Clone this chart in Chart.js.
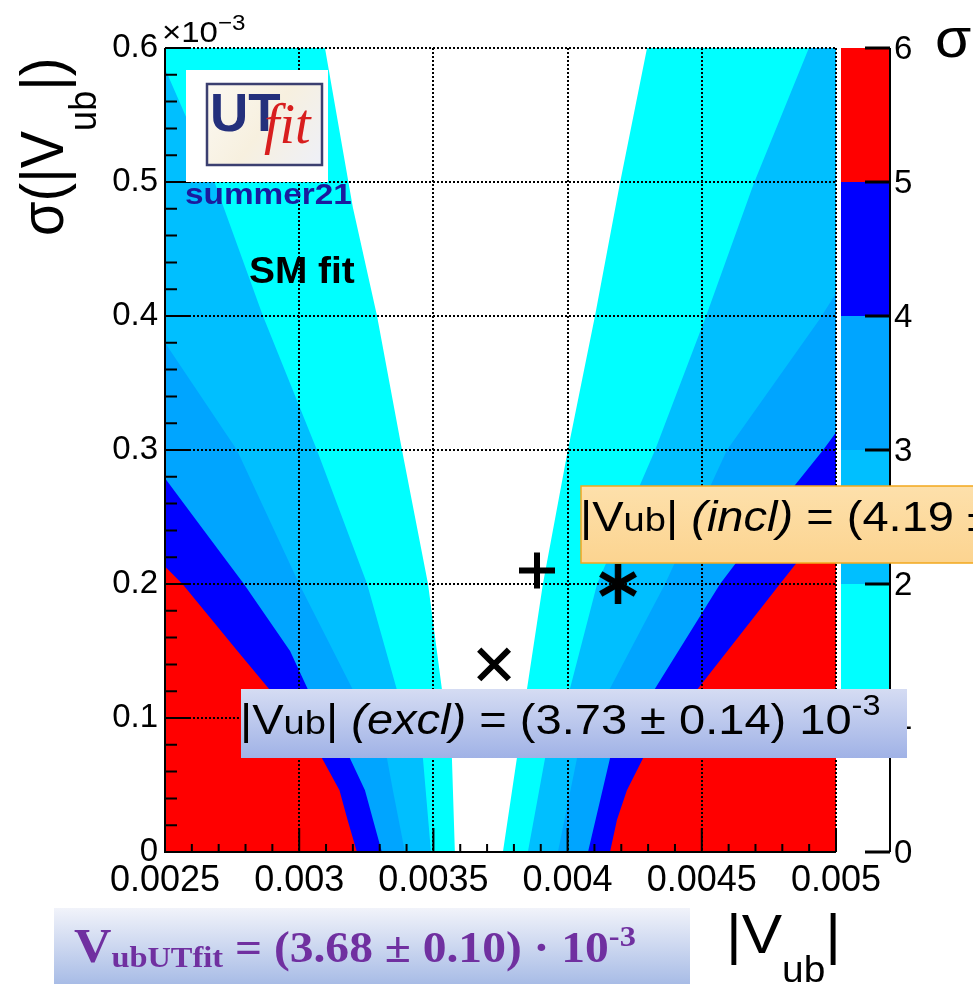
<!DOCTYPE html>
<html>
<head>
<meta charset="utf-8">
<script src="https://cdn.jsdelivr.net/npm/chart.js@4.4.0/dist/chart.umd.min.js"></script>
<style>
  html, body { margin: 0; padding: 0; background: #fff; }
</style>
</head>
<body>
<canvas id="chart" width="973" height="984"></canvas>
<script>
// ========================== DATA ==========================
const xTicks = [0.0025, 0.003, 0.0035, 0.004, 0.0045, 0.005];
const xTickLabels = ["0.0025", "0.003", "0.0035", "0.004", "0.0045", "0.005"];
const yTicks = [0, 0.1, 0.2, 0.3, 0.4, 0.5, 0.6];            // x10^-3
const yTickLabels = ["0", "0.1", "0.2", "0.3", "0.4", "0.5", "0.6"];
const sigmaLevels = [0, 1, 2, 3, 4, 5, 6];
const sigmaLabels = ["0", "1", "2", "3", "4", "5", "6"];
const sigmaColors = ["#ffffff", "#00ffff", "#00bfff", "#00a5ff", "#0000ff", "#ff0000"];

// contour boundaries, left branch (x at each y, bottom -> top)
const left1Y = [0, 0.070, 0.121, 0.2, 0.3, 0.4, 0.481, 0.6];
const left1X = [0.003580, 0.003569, 0.003532, 0.003480, 0.003383, 0.003290, 0.003200, 0.003096];
const left2Y = [0, 0.070, 0.121, 0.2, 0.3, 0.4, 0.499, 0.580, 0.584, 0.6];
const left2X = [0.003491, 0.003461, 0.003364, 0.003253, 0.003066, 0.002865, 0.002686, 0.002510, 0.0025, 0.0025];
const left3Y = [0, 0.046, 0.070, 0.121, 0.2, 0.3, 0.380, 0.6];
const left3X = [0.003394, 0.003349, 0.003327, 0.003200, 0.003000, 0.002768, 0.0025, 0.0025];
const left4Y = [0, 0.024, 0.046, 0.070, 0.121, 0.15, 0.2, 0.24, 0.279, 0.6];
const left4X = [0.003308, 0.003275, 0.003245, 0.003189, 0.003033, 0.002966, 0.002794, 0.002645, 0.0025, 0.0025];
const left5Y = [0, 0.024, 0.046, 0.070, 0.121, 0.15, 0.2, 0.213, 0.6];
const left5X = [0.003215, 0.003180, 0.003150, 0.003085, 0.002890, 0.002770, 0.002565, 0.0025, 0.0025];

// contour boundaries, right branch (x at each y, bottom -> top)
const right1Y = [0, 0.070, 0.122, 0.2, 0.3, 0.4, 0.499, 0.6];
const right1X = [0.003759, 0.003811, 0.003849, 0.003908, 0.004001, 0.004102, 0.004195, 0.004296];
const right2Y = [0, 0.070, 0.122, 0.2, 0.3, 0.4, 0.499, 0.6];
const right2X = [0.003852, 0.003916, 0.004009, 0.004110, 0.004326, 0.004516, 0.004694, 0.004899];
const right3Y = [0, 0.070, 0.122, 0.2, 0.3, 0.397, 0.417, 0.6];
const right3X = [0.003964, 0.004035, 0.004158, 0.004363, 0.004594, 0.004937, 0.005, 0.005];
const right4Y = [0, 0.070, 0.122, 0.2, 0.272, 0.3, 0.313, 0.6];
const right4X = [0.004076, 0.004158, 0.004326, 0.004568, 0.004840, 0.004952, 0.005, 0.005];
const right5Y = [0, 0.024, 0.046, 0.070, 0.122, 0.2, 0.253, 0.6];
const right5X = [0.004158, 0.004184, 0.004221, 0.004281, 0.004486, 0.004791, 0.005, 0.005];

// measurement markers: incl (+), UTfit (*), excl (x)
const markerX = [0.003886, 0.004188, 0.003726];
const markerY = [0.210, 0.200, 0.140];

const xMin = 0.0025, xMax = 0.005, yMin = 0, yMax = 0.6;

// ========================== HELPERS ==========================
function toPts(xs, ys) {
  return xs.map((x, i) => ({ x: x, y: ys[i] }));
}
function band(lx, ly, rx, ry) {
  return toPts(lx, ly).concat(toPts(rx, ry).reverse());
}
function bandSet(label, data, color) {
  return {
    label, data, showLine: true, fill: "shape", tension: 0,
    backgroundColor: color, borderColor: "rgba(0,0,0,0)", borderWidth: 0,
    pointRadius: 0, pointHitRadius: 0
  };
}

// 6-arm asterisk used as point style
function asterisk() {
  const c = document.createElement("canvas");
  c.width = 44; c.height = 46;
  const g = c.getContext("2d");
  g.strokeStyle = "#000"; g.lineWidth = 6.5;
  const r = 20;
  [90, 30, 150].forEach(a => {
    const t = a * Math.PI / 180;
    g.beginPath();
    g.moveTo(22 - Math.cos(t) * r, 23 - Math.sin(t) * r);
    g.lineTo(22 + Math.cos(t) * r, 23 + Math.sin(t) * r);
    g.stroke();
  });
  return c;
}

function drawRuns(ctx, x, y, runs, sx) {
  ctx.save();
  ctx.translate(x, y);
  ctx.scale(sx, 1);
  ctx.textAlign = "left";
  ctx.textBaseline = "alphabetic";
  let cx = 0;
  runs.forEach(r => {
    ctx.font = r.f;
    if (r.c) ctx.fillStyle = r.c;
    ctx.fillText(r.t, cx, r.dy || 0);
    cx += ctx.measureText(r.t).width;
  });
  ctx.restore();
}

const SANS = '"Liberation Sans", Arial, sans-serif';
const SERIF = '"Liberation Serif", "Times New Roman", serif';

// ========================== OVERLAY ==========================
const overlay = {
  id: "overlay",
  afterDraw(chart) {
    const ctx = chart.ctx;
    const xs = chart.scales.x, ys = chart.scales.y, cs = chart.scales.cb;
    const a = chart.chartArea;
    ctx.save();

    // axes
    ctx.strokeStyle = "#000";
    ctx.lineWidth = 2;
    ctx.beginPath();
    ctx.moveTo(a.left, a.top);
    ctx.lineTo(a.left, a.bottom);
    ctx.lineTo(a.right, a.bottom);
    ctx.stroke();

    // inward ticks
    ctx.beginPath();
    for (let i = 0; i < yTicks.length; i++) {
      const py = ys.getPixelForValue(yTicks[i]);
      ctx.moveTo(a.left, py); ctx.lineTo(a.left + 25, py);
      if (i < yTicks.length - 1) {
        for (let k = 1; k < 5; k++) {
          const v = yTicks[i] + (yTicks[i + 1] - yTicks[i]) * k / 5;
          const p = ys.getPixelForValue(v);
          ctx.moveTo(a.left, p); ctx.lineTo(a.left + 12, p);
        }
      }
    }
    for (let i = 0; i < xTicks.length; i++) {
      const px = xs.getPixelForValue(xTicks[i]);
      ctx.moveTo(px, a.bottom); ctx.lineTo(px, a.bottom - 24);
      if (i < xTicks.length - 1) {
        for (let k = 1; k < 5; k++) {
          const v = xTicks[i] + (xTicks[i + 1] - xTicks[i]) * k / 5;
          const p = xs.getPixelForValue(v);
          ctx.moveTo(p, a.bottom); ctx.lineTo(p, a.bottom - 8);
        }
      }
    }
    ctx.stroke();

    // colour bar
    const cbL = 841, cbR = 890;
    for (let i = 0; i < sigmaColors.length; i++) {
      const y0 = cs.getPixelForValue(sigmaLevels[i]);
      const y1 = cs.getPixelForValue(sigmaLevels[i + 1]);
      ctx.fillStyle = sigmaColors[i];
      ctx.fillRect(cbL, y1, cbR - cbL, y0 - y1);
    }
    ctx.strokeStyle = "#000";
    ctx.lineWidth = 2;
    ctx.beginPath();
    ctx.moveTo(cbR, cs.getPixelForValue(6)); ctx.lineTo(cbR, cs.getPixelForValue(0));
    ctx.stroke();
    ctx.lineWidth = 3;
    ctx.beginPath();
    sigmaLevels.forEach(l => {
      const p = cs.getPixelForValue(l);
      ctx.moveTo(cbR - 25, p); ctx.lineTo(cbR, p);
    });
    ctx.stroke();
    ctx.fillStyle = "#000";
    ctx.font = "33px " + SANS;
    ctx.textAlign = "left";
    ctx.textBaseline = "middle";
    sigmaLevels.forEach((l, i) => ctx.fillText(sigmaLabels[i], 894, cs.getPixelForValue(l) + 2));

    // sigma label of colour bar
    drawRuns(ctx, 935, 57, [{ t: "σ", f: "56px " + SANS, c: "#000" }], 1.05);

    // x10^-3
    drawRuns(ctx, 162, 42, [
      { t: "×10", f: "30px " + SANS, c: "#000" },
      { t: "−3", f: "22px " + SANS, dy: -12 }
    ], 1.1);

    // axis titles
    drawRuns(ctx, 726, 953, [
      { t: "|V", f: "56px " + SANS, c: "#000" },
      { t: "ub", f: "36px " + SANS, dy: 29 },
      { t: "|", f: "56px " + SANS }
    ], 1.08);
    ctx.save();
    ctx.translate(63, 236);
    ctx.scale(1.1, 1);
    ctx.rotate(-Math.PI / 2);
    drawRuns(ctx, 0, 0, [
      { t: "σ(|V", f: "56px " + SANS, c: "#000" },
      { t: "ub", f: "36px " + SANS, dy: 30 },
      { t: "|)", f: "56px " + SANS }
    ], 1.0);
    ctx.restore();

    // UTfit logo
    ctx.fillStyle = "#ffffff";
    ctx.fillRect(186, 70, 142, 112);
    const lg = ctx.createLinearGradient(207, 84, 322, 165);
    lg.addColorStop(0, "#fbf8f2");
    lg.addColorStop(0.5, "#f7f0df");
    lg.addColorStop(1, "#eef0f8");
    ctx.fillStyle = lg;
    ctx.fillRect(207, 84, 115, 81);
    ctx.strokeStyle = "#3b3f70";
    ctx.lineWidth = 2.5;
    ctx.strokeRect(207, 84, 115, 81);
    drawRuns(ctx, 210, 131, [{ t: "UT", f: "bold 54px " + SANS, c: "#24307c" }], 0.98);
    drawRuns(ctx, 264, 143, [{ t: "fit", f: "italic 56px " + SERIF, c: "#d81e1e" }], 1.0);

    drawRuns(ctx, 185, 204, [{ t: "summer21", f: "bold 29px " + SANS, c: "#1b1b9e" }], 1.15);
    drawRuns(ctx, 249, 283, [{ t: "SM fit", f: "bold 36px " + SANS, c: "#000" }], 1.08);

    // incl box
    const ig = ctx.createLinearGradient(0, 486, 0, 563);
    ig.addColorStop(0, "#fde0ab");
    ig.addColorStop(1, "#fcd490");
    ctx.fillStyle = ig;
    ctx.fillRect(581, 486, 400, 77);
    ctx.strokeStyle = "#f2a81e";
    ctx.lineWidth = 1.5;
    ctx.strokeRect(581, 486, 400, 77);
    drawRuns(ctx, 580, 531, [
      { t: "|V", f: "42px " + SANS, c: "#000" },
      { t: "ub", f: "34px " + SANS },
      { t: "| ", f: "42px " + SANS },
      { t: "(incl)", f: "italic 42px " + SANS },
      { t: " = (4.19 ±", f: "42px " + SANS }
    ], 1.12);

    // excl box
    const eg = ctx.createLinearGradient(0, 689, 0, 758);
    eg.addColorStop(0, "#d5dcf3");
    eg.addColorStop(1, "#a0b2e6");
    ctx.fillStyle = eg;
    ctx.fillRect(241, 689, 666, 69);
    drawRuns(ctx, 240, 734, [
      { t: "|V", f: "42px " + SANS, c: "#000" },
      { t: "ub", f: "34px " + SANS },
      { t: "| ", f: "42px " + SANS },
      { t: "(excl)", f: "italic 42px " + SANS },
      { t: " = (3.73 ± 0.14) 10", f: "42px " + SANS },
      { t: "-3", f: "29px " + SANS, dy: -19 }
    ], 1.12);

    // UTfit result box
    const ug = ctx.createLinearGradient(0, 908, 0, 984);
    ug.addColorStop(0, "#f1f3fa");
    ug.addColorStop(1, "#a8bce6");
    ctx.fillStyle = ug;
    ctx.fillRect(54, 908, 636, 76);
    drawRuns(ctx, 74, 962, [
      { t: "V", f: "bold 48px " + SERIF, c: "#7030a0" },
      { t: "ubUTfit", f: "bold 30px " + SERIF, dy: 5 },
      { t: " = (3.68 ± 0.10) · 10", f: "bold 44px " + SERIF },
      { t: "-3", f: "bold 30px " + SERIF, dy: -16 }
    ], 1.08);

    ctx.restore();
  }
};

// ========================== CHART ==========================
const datasets = [
  {
    label: "markers",
    data: toPts(markerX, markerY),
    showLine: false,
    pointStyle: ["cross", asterisk(), "crossRot"],
    pointRadius: [18, 20, 21],
    pointBorderWidth: [6, 5, 6],
    pointBorderColor: "#000",
    pointBackgroundColor: "#000"
  },
  bandSet("< 1σ", band(left1X, left1Y, right1X, right1Y), sigmaColors[0]),
  bandSet("1-2σ", band(left2X, left2Y, right2X, right2Y), sigmaColors[1]),
  bandSet("2-3σ", band(left3X, left3Y, right3X, right3Y), sigmaColors[2]),
  bandSet("3-4σ", band(left4X, left4Y, right4X, right4Y), sigmaColors[3]),
  bandSet("4-5σ", band(left5X, left5Y, right5X, right5Y), sigmaColors[4]),
  bandSet("> 5σ", [
    { x: xMin, y: yMin }, { x: xMax, y: yMin }, { x: xMax, y: yMax }, { x: xMin, y: yMax }
  ], sigmaColors[5])
];

new Chart(document.getElementById("chart"), {
  type: "scatter",
  data: { datasets },
  options: {
    responsive: false,
    animation: false,
    events: [],
    layout: { padding: { top: 48, right: 137, bottom: 0, left: 0 } },
    plugins: { legend: { display: false }, tooltip: { enabled: false } },
    scales: {
      x: {
        type: "linear", min: xMin, max: xMax,
        afterBuildTicks: s => { s.ticks = xTicks.map(v => ({ value: v })); },
        afterFit: s => { s.height = 132; },
        grid: { color: "#000", lineWidth: 2, drawTicks: false, z: 1 },
        border: { display: false, dash: [2, 2] },
        ticks: {
          autoSkip: false, maxRotation: 0, padding: 7, color: "#000",
          font: { family: "Liberation Sans", size: 36 },
          callback: (v, i) => xTickLabels[i]
        }
      },
      y: {
        type: "linear", min: yMin, max: yMax,
        afterBuildTicks: s => { s.ticks = yTicks.map(v => ({ value: v })); },
        afterFit: s => { s.width = 165; },
        grid: { color: "#000", lineWidth: 2, drawTicks: false, z: 1 },
        border: { display: false, dash: [2, 2] },
        ticks: {
          autoSkip: false, padding: 7, color: "#000",
          font: { family: "Liberation Sans", size: 33 },
          callback: (v, i) => yTickLabels[i]
        }
      },
      cb: {
        type: "linear", position: "right", min: 0, max: 6,
        afterFit: s => { s.width = 0; },
        grid: { display: false },
        border: { display: false },
        ticks: { display: false }
      }
    }
  },
  plugins: [overlay]
});
</script>
</body>
</html>
